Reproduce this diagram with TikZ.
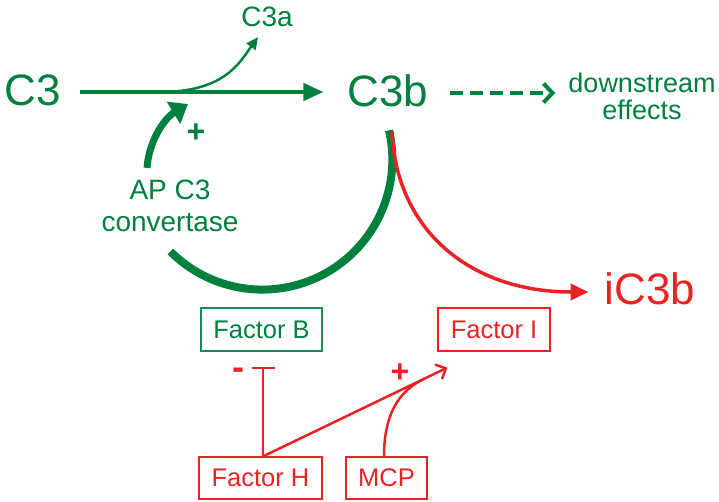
\documentclass[tikz,border=0pt]{standalone}
\usepackage{fontspec}
\setmainfont{Liberation Sans}
\usetikzlibrary{arrows.meta,calc}
\definecolor{cgreen}{RGB}{0,128,62}
\definecolor{cred}{RGB}{232,35,35}
\begin{document}
\begin{tikzpicture}[x=1pt,y=-1pt,
  big/.style={inner sep=0pt, font=\fontsize{44}{44}\selectfont},
  mid/.style={inner sep=0pt, font=\fontsize{28}{32}\selectfont, align=center},
  sign/.style={inner sep=0pt, font=\fontsize{32}{32}\selectfont\bfseries},
  fbox/.style={draw, line width=1.2pt, minimum height=43pt, inner sep=0pt, font=\fontsize{25.5}{25.5}\selectfont},
  gbox/.style={fbox, draw=cgreen!90, text=cgreen},
  rbox/.style={fbox, draw=cred, text=cred}]
\useasboundingbox (0,0) rectangle (719,502);
% species
\node[big, cgreen] (c3) at (33,90) {C3};
\node[big, cgreen] (c3b) at (388,91) {C3b};
\node[big, cred] (ic3b) at (650,289) {iC3b};
\node[mid, cgreen] (c3a) at (267,17) {C3a};
\node[mid, cgreen, font=\fontsize{27}{27}\selectfont] (down) at (642,96) {downstream\\effects};
\node[mid, cgreen] (apc3) at (170,206) {AP C3\\convertase};
\node[sign, cgreen] (plusg) at (196,133) {+};
% factors
\node[gbox, minimum width=121pt] (facb) at (261.5,329.5) {Factor B};
\node[rbox, minimum width=112pt] (faci) at (494,329.5) {Factor I};
\node[rbox, minimum width=123pt, minimum height=42pt] (fach) at (260.5,478) {Factor H};
\node[rbox, minimum width=81pt, minimum height=42pt] (mcp) at (386.5,478) {MCP};
\node[sign, cred, font=\fontsize{36}{36}\selectfont\bfseries] (minus) at (238,374) {-};
\node[sign, cred] (plusr) at (400,373) {+};
% C3 -> C3b, C3a split off
\draw[cgreen, line width=4pt, -{Triangle[length=20pt,width=17pt]}] ([xshift=19pt,yshift=-2pt]c3.east) -- ([xshift=-24pt,yshift=-1pt]c3b.west);
\coordinate (split) at (160,92);
\draw[cgreen, line width=2.5pt, -{Triangle[length=12pt,width=11pt]}] (split) .. controls (225,92) and (240,62) .. ([shift={(-9,10)}]c3a.south);
\draw[cgreen, line width=4pt, dash pattern=on 13pt off 7pt, -{Straight Barb[length=9pt,width=19pt]}] ([xshift=21pt,yshift=-2pt]c3b.east) -- ([xshift=-13pt,yshift=3pt]down.west);
% convertase loop
\draw[cgreen, line width=8pt] ([shift={(1,23)}]c3b.south) arc[start angle=-13, end angle=135, radius=130];
\draw[cgreen, line width=7pt, -{Triangle[length=17pt,width=25pt]}] ([shift={(-23,-12)}]apc3.north) .. controls (149,140) and (165,118) .. (188,104);
% cleavage to iC3b
\draw[cred, line width=3.5pt, -{Triangle[length=18pt,width=16pt]}] ([shift={(4,24)}]c3b.south) .. controls (396,230) and (470,292) .. ([shift={(-16,3)}]ic3b.west);
% regulators
\coordinate (hstart) at ([xshift=2.5pt]fach.north);
\coordinate (itarget) at ($(faci.south west)+(10,16)$);
\draw[cred, line width=2.5pt, -{Bar[width=23pt]}] (hstart) -- ($(fach.north |- facb.south)+(2.5,15)$);
\draw[cred, line width=2.5pt, -{Straight Barb[length=8pt,width=16pt]}] (hstart) -- (itarget);
\draw[cred, line width=2.5pt] ([xshift=-2.5pt]mcp.north) .. controls ($(mcp.north)+(-2.5,-50)$) and ($(hstart)!0.77!(itarget)$) .. ($(hstart)!0.876!(itarget)$);
\end{tikzpicture}
\end{document}
